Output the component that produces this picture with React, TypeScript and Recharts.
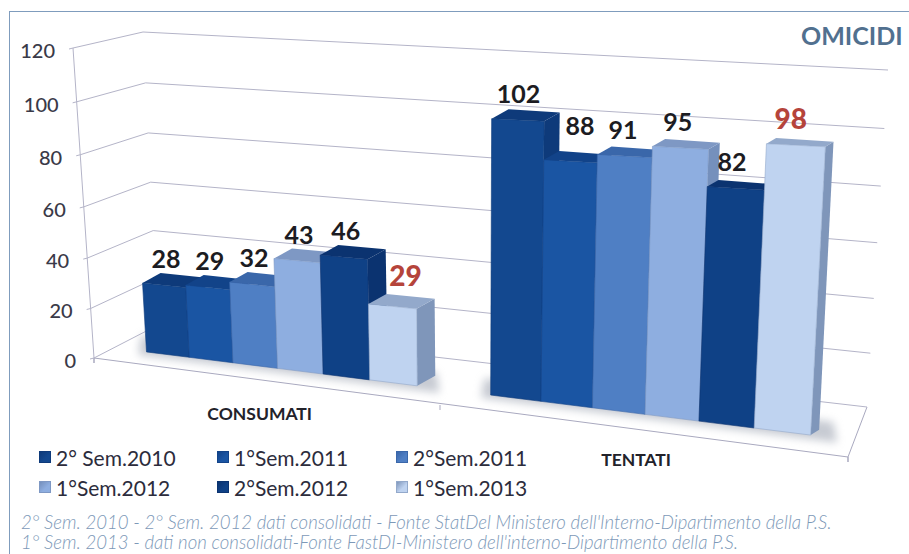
import React from "react";
import { BarChart, Bar, XAxis, YAxis, CartesianGrid, Legend, LabelList } from "recharts";

const categories = ["CONSUMATI", "TENTATI"];
const sem2010 = [28, 102];
const sem2011a = [29, 88];
const sem2011b = [32, 91];
const sem2012a = [43, 95];
const sem2012b = [46, 82];
const sem2013 = [29, 98];
const yTicks = [0, 20, 40, 60, 80, 100, 120];
const seriesNames = ["2° Sem.2010", "1°Sem.2011", "2°Sem.2011", "1°Sem.2012", "2°Sem.2012", "1°Sem.2013"];
const seriesValues = [sem2010, sem2011a, sem2011b, sem2012a, sem2012b, sem2013];
const footnotes = [
  "2° Sem. 2010 - 2° Sem. 2012 dati consolidati - Fonte StatDel Ministero dell'Interno-Dipartimento della P.S.",
  "1° Sem. 2013 - dati non consolidati-Fonte FastDI-Ministero dell'interno-Dipartimento della P.S.",
];

const styles = [
  { front: "#13488f", top: "#0e3a7a", side: "#0e3a7a", label: "#1c1c22" },
  { front: "#1a55a3", top: "#124389", side: "#124389", label: "#1c1c22" },
  { front: "#4f7fc4", top: "#3a67aa", side: "#3a67aa", label: "#1c1c22" },
  { front: "#8eaee0", top: "#7e98c4", side: "#7590bc", label: "#1c1c22" },
  { front: "#0f4186", top: "#0b3370", side: "#0b3370", label: "#1c1c22" },
  { front: "#bfd3f0", top: "#93a9cb", side: "#7f96ba", label: "#b5443b" },
];

const rows = categories.map((name, i) => {
  const row: Record<string, any> = { name };
  seriesNames.forEach((s, j) => (row[s] = seriesValues[j][i]));
  return row;
});

const W = 909, H = 554;
const PL = 80, PT = 40, PW = 750, PH = 300;
const SPAN = 1.113, PAD = 0.0565, K = 0.162;
type Pt = [number, number];
const lerp = (a: number, b: number, t: number) => a + (b - a) * t;
const lerpP = (a: Pt, b: Pt, t: number): Pt => [lerp(a[0], b[0], t), lerp(a[1], b[1], t)];
const toS = (t: number) => t / (1 + K * (1 - t));
const xToT = (x: number) => ((x - PL) / PW) * SPAN - PAD;
const yToV = (y: number) => (PT + PH - y) / PH;
// bar front plane in perspective
const project = (x: number, y: number): Pt => {
  const s = toS(xToT(x));
  const v = yToV(y);
  return lerpP([147 + 663 * s, 352 + 83 * s], [130 + 698 * s, 57 + 25 * s], v);
};
const depth = (p: Pt): Pt => {
  const f = Math.max(0, Math.min(1, (p[0] - 450) / 380));
  return [p[0] + lerp(18, 8, f), p[1] + lerp(-10, -5, f)];
};
const warp = (v: number) => v * (1 - 0.05 * (1 - v));
const wallF = (v: number) => lerpP([94, 358], [73, 48], warp(v));
const wallB = (v: number) => lerpP([158, 325], [143, 32], warp(v));
const wallR = (v: number) => lerpP([867, 407], [888, 70], warp(v));
const poly = (pts: Pt[]) => pts.map((p) => p.join(",")).join(" ");

const Bar3D = (idx: number) => (props: any) => {
  const { x, y, width, height } = props;
  const c = styles[idx];
  const bl = project(x, y + height), br = project(x + width, y + height);
  const tl = project(x, y), tr = project(x + width, y);
  const dtl = depth(tl), dtr = depth(tr), dbr = depth(br);
  return (
    <g>
      <polygon points={poly([br, tr, dtr, dbr])} fill={c.side} />
      <polygon points={poly([tl, tr, dtr, dtl])} fill={c.top} />
      <polygon points={poly([bl, br, tr, tl])} fill={c.front} stroke={c.top} strokeWidth={0.6} />
    </g>
  );
};

const BarLabel = (idx: number) => (props: any) => {
  const { x, y, width, value } = props;
  const p = project(x + width / 2, y);
  const raised = value === 88 || (idx === 5 && value === 29);
  const nudge = (value === 88 ? 12 : raised ? 13 : 2) - Math.max(0, p[0] - 450) * 0.02;
  const up = value === 88 ? 36 : raised ? 31 : 27;
  return (
    <text x={p[0] + nudge} y={p[1] - up} textAnchor="middle" dominantBaseline="central"
      fontFamily="Lato" fontWeight={idx === 5 ? 900 : 700} fontSize={idx === 5 ? 28 : 25} fill={styles[idx].label}>
      {value}
    </text>
  );
};

const gridLine = (props: any) => {
  const v = yToV(props.y1);
  const a = wallF(v), b = wallB(v), c = wallR(v);
  const isFloor = Math.abs(v) < 0.001;
  const frontR: Pt = [848, 457];
  const group = (t0: number, t1: number): Pt[] => {
    const q = (t: number, e: number): Pt => {
      const s = toS(t);
      return [147 + 663 * s, 352 + 83 * s + e];
    };
    return [q(t0 - 0.01, -16), q(t1 + 0.03, -16), q(t1 + 0.035, 4), q(t0 - 0.015, 4)];
  };
  return (
    <g>
      {isFloor && (
        <g>
          <defs>
            <filter id="soft" x="-20%" y="-60%" width="140%" height="220%">
              <feGaussianBlur stdDeviation="4" />
            </filter>
          </defs>
          <polygon points={poly(group(0, 0.4437))} fill="#8f96a6" opacity={0.5} filter="url(#soft)" />
          <polygon points={poly(group(0.5563, 1))} fill="#8f96a6" opacity={0.5} filter="url(#soft)" />
          <polyline points={poly([wallF(1), a])} fill="none" stroke="#b4b4c8" />
          <polyline points={poly([a, [a[0], a[1] + 5], a, frontR, [frontR[0], frontR[1] + 5], frontR, c])} fill="none" stroke="#a9a9bf" />
          <line x1={440} y1={405} x2={440} y2={410} stroke="#a9a9bf" />
        </g>
      )}
      <polyline points={poly([[a[0] - 4, a[1] + 1], a, b, c])} fill="none" stroke="#b4b4c8" strokeWidth={1} />
    </g>
  );
};

const YTick = (props: any) => {
  const { y, payload } = props;
  const p = wallF(yToV(y));
  return (
    <text x={p[0] - 18} y={p[1] + 2} textAnchor="end" dominantBaseline="central"
      fontFamily="Lato" fontWeight={500} fontSize={20} fill="#3a3a48">
      {payload.value}
    </text>
  );
};

const XTick = (props: any) => {
  const { x, payload } = props;
  const s = toS(xToT(x));
  return (
    <text x={147 + 663 * s - 21 + 16 * s} y={352 + 83 * s + 45} textAnchor="middle" dominantBaseline="central"
      fontFamily="Lato" fontWeight={700} fontSize={17.5} fill="#22222a">
      {payload.value}
    </text>
  );
};

const legendX = [39, 217, 396];
const legendY = [447, 477];
const LegendContent = (props: any) => (
  <div>
    {(props.payload || []).map((e: any, i: number) => {
      const col = i % 3, row = Math.floor(i / 3);
      return (
        <div key={e.value} style={{ position: "absolute", left: legendX[col], top: legendY[row], display: "flex", alignItems: "center", height: 20, whiteSpace: "nowrap" }}>
          <span style={{ display: "inline-block", width: 12, height: 12, marginRight: 5, background: `linear-gradient(135deg, ${styles[i].side}, ${styles[i].front} 60%, ${styles[i].front})`, border: `1px solid ${styles[i].top}`, boxSizing: "border-box" }} />
          <span style={{ fontFamily: "Lato", fontSize: 21, color: "#2c2c3c" }}>{e.value}</span>
        </div>
      );
    })}
  </div>
);

export default function App() {
  return (
    <div style={{ position: "absolute", left: 0, top: 0, width: W, height: H, background: "#fff", overflow: "hidden" }}>
      <div style={{ position: "absolute", left: 9, top: 11, width: 920, height: 560, border: "1.5px solid #7f9cbd", boxSizing: "border-box" }} />
      <BarChart width={W} height={H} data={rows} barCategoryGap="10%" barGap={0}
        margin={{ left: PL - 1, top: PT, right: W - PL - PW, bottom: H - PT - PH - 1 }}>
        <CartesianGrid horizontal={gridLine} vertical={false} />
        <XAxis dataKey="name" height={1} axisLine={false} tickLine={false} tick={XTick} interval={0} />
        <YAxis domain={[0, 120]} ticks={yTicks} width={1} axisLine={false} tickLine={false} tick={YTick} interval={0} />
        <Legend content={LegendContent} itemSorter={null} wrapperStyle={{ left: 0, top: 0, bottom: "auto", width: W, height: 0 }} />
        {seriesNames.map((s, i) => (
          <Bar key={s} dataKey={s} fill={styles[i].front} shape={Bar3D(i)} isAnimationActive={false}>
            <LabelList dataKey={s} content={BarLabel(i)} />
          </Bar>
        ))}
      </BarChart>
      <div style={{ position: "absolute", left: 801, top: 20, fontFamily: "Lato", fontWeight: 700, fontSize: 25, color: "#51708f", whiteSpace: "nowrap" }}>OMICIDI</div>
      {footnotes.map((t, i) => (
        <div key={i} style={{ position: "absolute", left: 21, top: 513 + i * 20, height: 20, lineHeight: "18px", fontFamily: "Lato", fontStyle: "italic", fontWeight: 300, fontSize: 18.6, color: "#7d99b8", whiteSpace: "nowrap" }}>{t}</div>
      ))}
    </div>
  );
}
